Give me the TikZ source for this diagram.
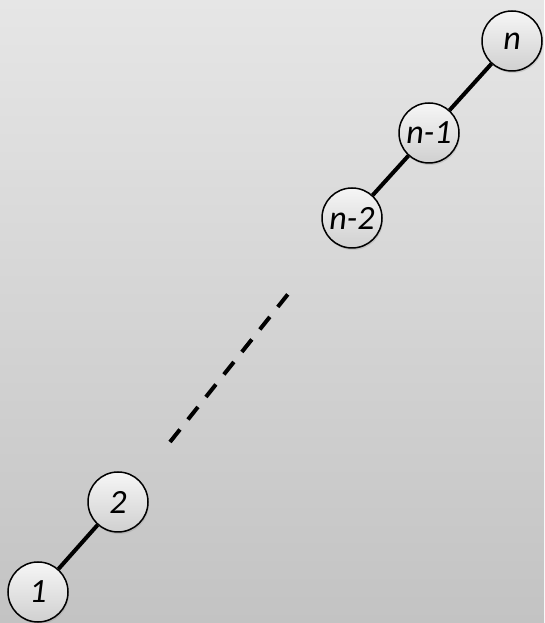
\documentclass[tikz,border=0pt]{standalone}
\usepackage{fontspec}
\newfontfamily\lblfont{Carlito}
\usetikzlibrary{shadows}
\definecolor{bgtop}{HTML}{E6E6E6}
\definecolor{bgbot}{HTML}{C3C3C3}
\definecolor{vtxtop}{HTML}{F6F6F6}
\definecolor{vtxbot}{HTML}{D0D0D0}

\begin{document}
\begin{tikzpicture}[
  x=1pt,y=1pt,
  vtx/.style={circle,draw,line width=1.5pt,minimum size=60pt,inner sep=0pt,
    top color=vtxtop,bottom color=vtxbot,
    drop shadow={shadow xshift=1pt,shadow yshift=-2pt,opacity=0.25},
    font=\lblfont\itshape\fontsize{34}{34}\selectfont},
  link/.style={line width=4pt},
  gap/.style={line width=4pt,dash pattern=on 16pt off 12.8pt}
]
\shade[top color=bgtop,bottom color=bgbot] (0,0) rectangle (544,623);
\useasboundingbox (0,0) rectangle (544,623);
% the chain
\node[vtx] (vn) at (512,582) {n};
\node[vtx] (vn1) at (429,490) {n-1};
\node[vtx] (vn2) at (352,405) {n-2};
\node[vtx] (v2) at (118,121) {2};
\node[vtx] (v1) at (38,31) {1};
\coordinate (gbot) at (170,181);
\coordinate (gtop) at (288.5,329.5);
\draw[link] (vn) -- (vn1);
\draw[link] (vn1) -- (vn2);
\draw[link] (v2) -- (v1);
\draw[gap] (gbot) -- (gtop);
\end{tikzpicture}
\end{document}
